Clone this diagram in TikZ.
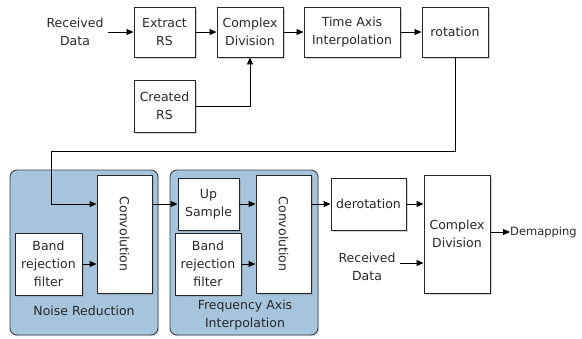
\documentclass[tikz,border=0pt]{standalone}
\usepackage{fontspec}
\setmainfont{DejaVu Sans}
\usetikzlibrary{arrows.meta,shadows,calc}
\definecolor{grpfill}{RGB}{167,196,221}
\definecolor{grpline}{RGB}{58,69,80}
\definecolor{txt}{RGB}{40,40,40}
\begin{document}
\begin{tikzpicture}[x=1pt,y=-1pt,
  every node/.style={font=\fontsize{12.5}{18}\selectfont, text=txt, align=center, inner sep=1pt},
  blk/.style={draw=black!85, line width=0.9pt, fill=white, drop shadow={shadow xshift=1.5pt, shadow yshift=-1.5pt, opacity=0.35}},
  grp/.style={draw=grpline, line width=0.9pt, fill=grpfill, rounded corners=7pt, drop shadow={shadow xshift=1.2pt, shadow yshift=-1.2pt, opacity=0.3}},
  conn/.style={line width=0.9pt, -{Triangle[length=7pt,width=6pt]}}]
\useasboundingbox (0,0) rectangle (582,338);
% groups
\path[grp] (10,170) rectangle (158,335);
\path[grp] (170,170) rectangle (318,335);
\node (nrlab) at (84,311) {Noise Reduction};
\node (falab) at (245,315) {Frequency Axis\\Interpolation};
% top row
\node (rd1) at (75,32) {Received\\Data};
\node[blk, minimum width=61pt, minimum height=50pt] (ext) at (164.5,32) {Extract\\RS};
\node[blk, minimum width=66pt, minimum height=50pt] (cd1) at (250,32) {Complex\\Division};
\node[blk, minimum width=61pt, minimum height=52pt] (crs) at (164.5,106) {Created\\RS};
\node[blk, minimum width=96pt, minimum height=50pt] (tai) at (352,32) {Time Axis\\Interpolation};
\node[blk, minimum width=66pt, minimum height=50pt] (rot) at (455,32) {rotation};
% bottom row
\node[blk, minimum width=55pt, minimum height=118pt] (conv1) at (124.5,234) {};
\node[rotate=-90] (conv1t) at (conv1.center) {Convolution};
\node[blk, minimum width=67pt, minimum height=62pt] (band1) at (48.5,264) {Band\\rejection\\filter};
\node[blk, minimum width=61pt, minimum height=52pt] (up) at (208.5,204) {Up\\Sample};
\node[blk, minimum width=66pt, minimum height=62pt] (band2) at (208,264) {Band\\rejection\\filter};
\node[blk, minimum width=55pt, minimum height=118pt] (conv2) at (283.5,234) {};
\node[rotate=-90] (conv2t) at (conv2.center) {Convolution};
\node[blk, minimum width=75pt, minimum height=52pt] (derot) at (368.5,204) {derotation};
\node[blk, minimum width=66pt, minimum height=118pt] (cd2) at (457,234) {Complex\\Division};
\node (rd2) at (367,267) {Received\\Data};
\node[anchor=west, inner sep=0pt, font=\fontsize{11.5}{18}\selectfont] (dem) at (510,232) {Demapping};
\coordinate (k1) at (51,151);
\coordinate (rd1o) at (108,32);
\coordinate (rd2o) at (400,263);
% connectors
\draw[conn] (rd1o) -- (ext.west);
\draw[conn] (ext) -- (cd1);
\draw[conn] (cd1) -- (tai);
\draw[conn] (tai) -- (rot);
\draw[conn] (crs.east) -| (cd1.south);
\draw[conn] (rot.south) |- (k1) |- (conv1.west |- up.west);
\draw[conn] (conv1.east |- up.west) -- (up.west);
\draw[conn] (up.east) -- (conv2.west |- up.east);
\draw[conn] (band1.east) -- (conv1.west |- band1.east);
\draw[conn] (band2.east) -- (conv2.west |- band2.east);
\draw[conn] (conv2.east |- derot.west) -- (derot.west);
\draw[conn] (derot.east) -- (cd2.west |- derot.east);
\draw[conn] (rd2o) -- (cd2.west |- rd2o);
\draw[conn] (cd2.east |- dem.west) -- (dem.west);
\end{tikzpicture}
\end{document}
